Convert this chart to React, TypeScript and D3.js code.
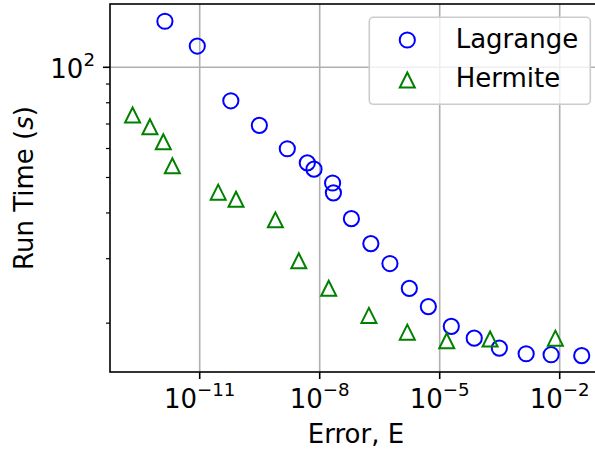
import * as d3 from "d3";

// Lagrange interpolation: error vs run time (s)
const lagrangeError = [
  1.35e-12, 8.7e-12, 6.0e-11, 3.1e-10, 1.55e-9, 4.9e-9, 7.2e-9, 2.1e-8, 2.2e-8, 6.2e-8,
  1.9e-7, 5.7e-7, 1.74e-6, 5.2e-6, 1.95e-5, 7.3e-5, 3.1e-4, 1.45e-3, 6.1e-3, 3.55e-2,
];
const lagrangeTime = [
  133.6, 114.3, 81.0, 69.4, 59.9, 54.8, 52.7, 48.3, 45.4, 38.6,
  33.0, 29.1, 24.9, 22.2, 19.6, 18.2, 17.1, 16.5, 16.4, 16.3,
];

// Hermite interpolation
const hermiteError = [
  2.1e-13, 5.7e-13, 1.23e-12, 2.07e-12, 2.9e-11, 8.1e-11, 7.8e-10, 3.0e-9, 1.68e-8, 1.7e-7,
  1.55e-6, 1.5e-5, 1.82e-4, 7.8e-3,
];
const hermiteTime = [
  74.1, 68.8, 62.6, 53.8, 45.6, 43.6, 38.3, 29.6, 24.9, 21.0,
  18.9, 17.9, 18.1, 18.2,
];

const xTickExps = [-11, -8, -5, -2];
const yMajorTicks = [100];
const yMinorTicks = [20, 30, 40, 50, 60, 70, 80, 90];
const seriesNames = ["Lagrange", "Hermite"];

const width = 595;
const height = 451;
const MARGIN = { top: 4, right: -7, bottom: 79, left: 110 };
const FONT = "DejaVu Sans, sans-serif";
const FS = 26;
const SUP = 18.2;
const GRID = "#b0b0b0";
const BLUE = "#0000ff";
const GREEN = "#008000";

export default function App() {
  const boundsWidth = width - MARGIN.left - MARGIN.right;
  const boundsHeight = height - MARGIN.top - MARGIN.bottom;

  const xScale = d3
    .scaleLog()
    .domain([Math.pow(10, -13.2425), Math.pow(10, -0.9425)])
    .range([0, boundsWidth]);
  const yScale = d3
    .scaleLog()
    .domain([14.71, 148.9])
    .range([boundsHeight, 0]);

  const tri = (cx: number, cy: number, h: number) =>
    `M${cx},${cy - h}L${cx - h},${cy + h}L${cx + h},${cy + h}Z`;

  const lagrange = lagrangeError.map((e, i) => [e, lagrangeTime[i]]);
  const hermite = hermiteError.map((e, i) => [e, hermiteTime[i]]);

  return (
    <svg
      width={width}
      height={height}
      style={{ position: "absolute", left: 0, top: 0 }}
      fontFamily={FONT}
    >
      <rect width={width} height={height} fill="#fff" />
      <g transform={`translate(${MARGIN.left},${MARGIN.top})`}>
        {/* grid */}
        {xTickExps.map((e) => (
          <line
            key={"gx" + e}
            x1={xScale(Math.pow(10, e))}
            x2={xScale(Math.pow(10, e))}
            y1={0}
            y2={boundsHeight}
            stroke={GRID}
            strokeWidth={1.6}
          />
        ))}
        {yMajorTicks.map((v) => (
          <line
            key={"gy" + v}
            x1={0}
            x2={boundsWidth}
            y1={yScale(v)}
            y2={yScale(v)}
            stroke={GRID}
            strokeWidth={1.6}
          />
        ))}

        {/* markers */}
        {lagrange.map(([e, t], i) => (
          <circle
            key={"l" + i}
            cx={xScale(e)}
            cy={yScale(t)}
            r={7.6}
            fill="none"
            stroke={BLUE}
            strokeWidth={2}
          />
        ))}
        {hermite.map(([e, t], i) => (
          <path
            key={"h" + i}
            d={tri(xScale(e), yScale(t), 7.5)}
            fill="none"
            stroke={GREEN}
            strokeWidth={2}
          />
        ))}

        {/* spines */}
        <rect
          x={0}
          y={0}
          width={boundsWidth}
          height={boundsHeight}
          fill="none"
          stroke="#000"
          strokeWidth={1.6}
        />

        {/* x ticks */}
        {xTickExps.map((e) => {
          const x = xScale(Math.pow(10, e));
          return (
            <g key={"xt" + e}>
              <line x1={x} x2={x} y1={boundsHeight} y2={boundsHeight + 7} stroke="#000" strokeWidth={1.6} />
              <text x={x} y={boundsHeight + 35.7} textAnchor="middle" fontSize={FS} fill="#000">
                10
                <tspan dy={-12} fontSize={SUP}>
                  {"\u2212" + Math.abs(e)}
                </tspan>
              </text>
            </g>
          );
        })}

        {/* y ticks */}
        {yMinorTicks.map((v) => (
          <line
            key={"ym" + v}
            x1={-4}
            x2={0}
            y1={yScale(v)}
            y2={yScale(v)}
            stroke="#000"
            strokeWidth={1.2}
          />
        ))}
        {yMajorTicks.map((v) => (
          <g key={"yt" + v}>
            <line x1={-7} x2={0} y1={yScale(v)} y2={yScale(v)} stroke="#000" strokeWidth={1.6} />
            <text x={-15} y={yScale(v) + 11} textAnchor="end" fontSize={FS} fill="#000">
              10
              <tspan dy={-12} fontSize={SUP}>
                {String(Math.log10(v))}
              </tspan>
            </text>
          </g>
        ))}
      </g>

      {/* axis labels */}
      <text x={356} y={443.3} textAnchor="middle" fontSize={FS} fill="#000">
        Error, E
      </text>
      <text
        transform={`translate(33.3,188) rotate(-90)`}
        textAnchor="middle"
        fontSize={FS}
        fill="#000"
      >
        Run Time (<tspan fontStyle="italic">s</tspan>)
      </text>

      {/* legend */}
      <g>
        <rect
          x={369.3}
          y={17.3}
          width={221}
          height={87}
          rx={4}
          fill="#fff"
          fillOpacity={0.8}
          stroke="#cccccc"
          strokeWidth={1.6}
        />
        <circle cx={407.3} cy={40} r={7.6} fill="none" stroke={BLUE} strokeWidth={2} />
        <path d={tri(407.3, 80, 7.5)} fill="none" stroke={GREEN} strokeWidth={2} />
        <text x={455.7} y={48.3} fontSize={FS} fill="#000">
          {seriesNames[0]}
        </text>
        <text x={455.7} y={87.3} fontSize={FS} fill="#000">
          {seriesNames[1]}
        </text>
      </g>
    </svg>
  );
}
